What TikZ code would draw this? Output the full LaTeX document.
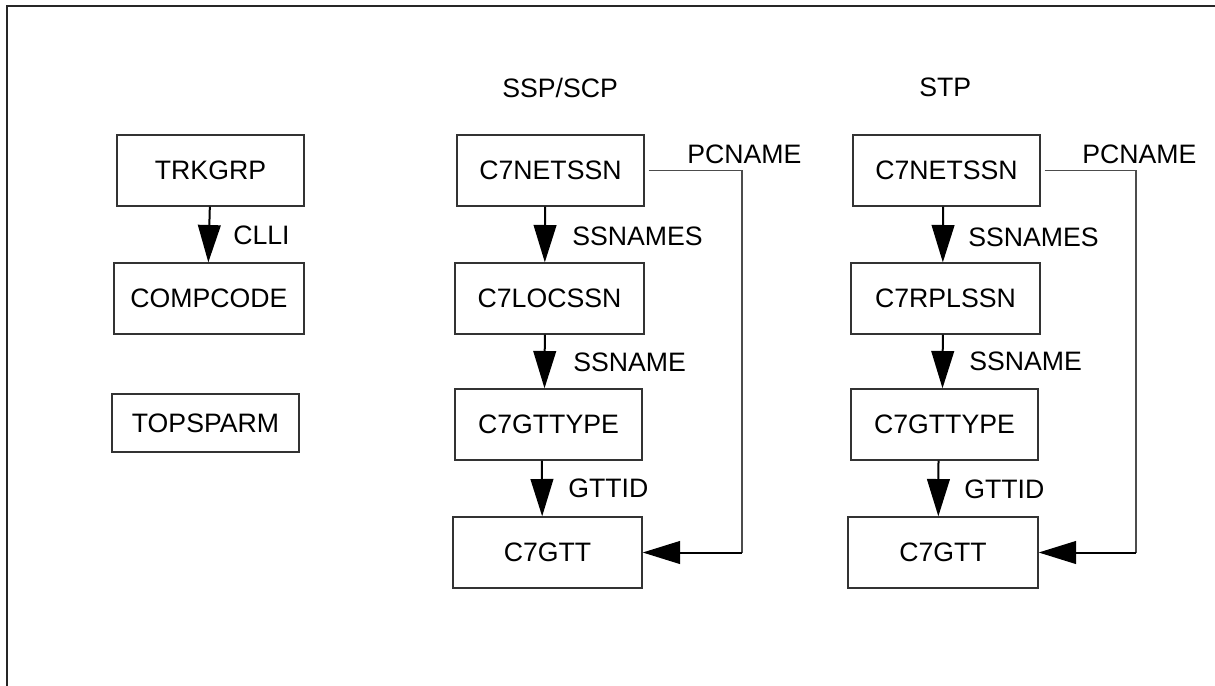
\documentclass[tikz,border=0pt]{standalone}
\usepackage{fontspec}
\setmainfont{Liberation Sans}
\usetikzlibrary{arrows.meta}
\begin{document}
\begin{tikzpicture}[x=0.75pt,y=-0.75pt,
  font=\fontsize{20}{24}\selectfont,
  tbl/.style={draw=black!80,line width=1pt,rectangle,minimum height=53.25pt,inner sep=0pt},
  lbl/.style={anchor=west,inner sep=0pt},
  arr/.style={line width=1.5pt,-{Triangle[length=28pt,width=17pt]}},
  link/.style={draw=black!70,line width=0.8pt},
  frame/.style={line width=1.5pt,black!85}]
\useasboundingbox (0,0) rectangle (1215,686);
\draw[frame] (7,686) -- (7,6) -- (1215,6);

% left column
\node[tbl,minimum width=140.25pt] (trk) at (210.5,170.5) {TRKGRP};
\node[tbl,minimum width=142.5pt] (comp) at (209,298.5) {COMPCODE};
\node[tbl,minimum width=140.25pt,minimum height=43.5pt] (tops) at (205.5,423) {TOPSPARM};
\draw[arr] ([xshift=-0.5pt]trk.south) -- ([xshift=-0.5pt]comp.north);
\node[lbl] (clli) at (233,235) {CLLI};

% SSP/SCP column
\node[lbl] (hA) at (502,88) {SSP/SCP};
\node[tbl,minimum width=140.25pt] (netA) at (550.5,170.5) {C7NETSSN};
\node[tbl,minimum width=141.75pt] (locA) at (549.5,298.5) {C7LOCSSN};
\node[tbl,minimum width=140.25pt] (typA) at (548.5,424.5) {C7GTTYPE};
\node[tbl,minimum width=141.75pt] (gttA) at (547.5,552.5) {C7GTT};
\draw[arr] ([xshift=-4pt]netA.south) -- ([xshift=-3.5pt]locA.north);
\draw[arr] ([xshift=-3.5pt]locA.south) -- ([xshift=-3pt]typA.north);
\draw[arr] ([xshift=-5pt]typA.south) -- ([xshift=-4pt]gttA.north);
\node[lbl] (snsA) at (572,236) {SSNAMES};
\node[lbl] (snA) at (573,362) {SSNAME};
\node[lbl] (gidA) at (568,488) {GTTID};
\node[lbl] (pcA) at (687,154) {PCNAME};
\coordinate (cA) at (742,170.5);
\coordinate (dA) at (742,552.5);
\draw[link,shorten <=3pt] (netA.east) -- (cA) -- (dA);
\draw[arr] (dA) -- (gttA.east);

% STP column
\node[lbl] (hB) at (919,87) {STP};
\node[tbl,minimum width=140.25pt] (netB) at (946.5,170.5) {C7NETSSN};
\node[tbl,minimum width=141.75pt] (rplB) at (945.5,298.5) {C7RPLSSN};
\node[tbl,minimum width=140.25pt] (typB) at (944.5,424.5) {C7GTTYPE};
\node[tbl,minimum width=142.5pt] (gttB) at (943,552.5) {C7GTT};
\draw[arr] ([xshift=-2.5pt]netB.south) -- ([xshift=-2pt]rplB.north);
\draw[arr] ([xshift=-2pt]rplB.south) -- ([xshift=-1.5pt]typB.north);
\draw[arr] ([xshift=-4.5pt]typB.south) -- ([xshift=-3.5pt]gttB.north);
\node[lbl] (snsB) at (968,237) {SSNAMES};
\node[lbl] (snB) at (969,361) {SSNAME};
\node[lbl] (gidB) at (964,489) {GTTID};
\node[lbl] (pcB) at (1082,154) {PCNAME};
\coordinate (cB) at (1136,170.5);
\coordinate (dB) at (1136,552.5);
\draw[link,shorten <=3pt] (netB.east) -- (cB) -- (dB);
\draw[arr] (dB) -- (gttB.east);
\end{tikzpicture}
\end{document}
